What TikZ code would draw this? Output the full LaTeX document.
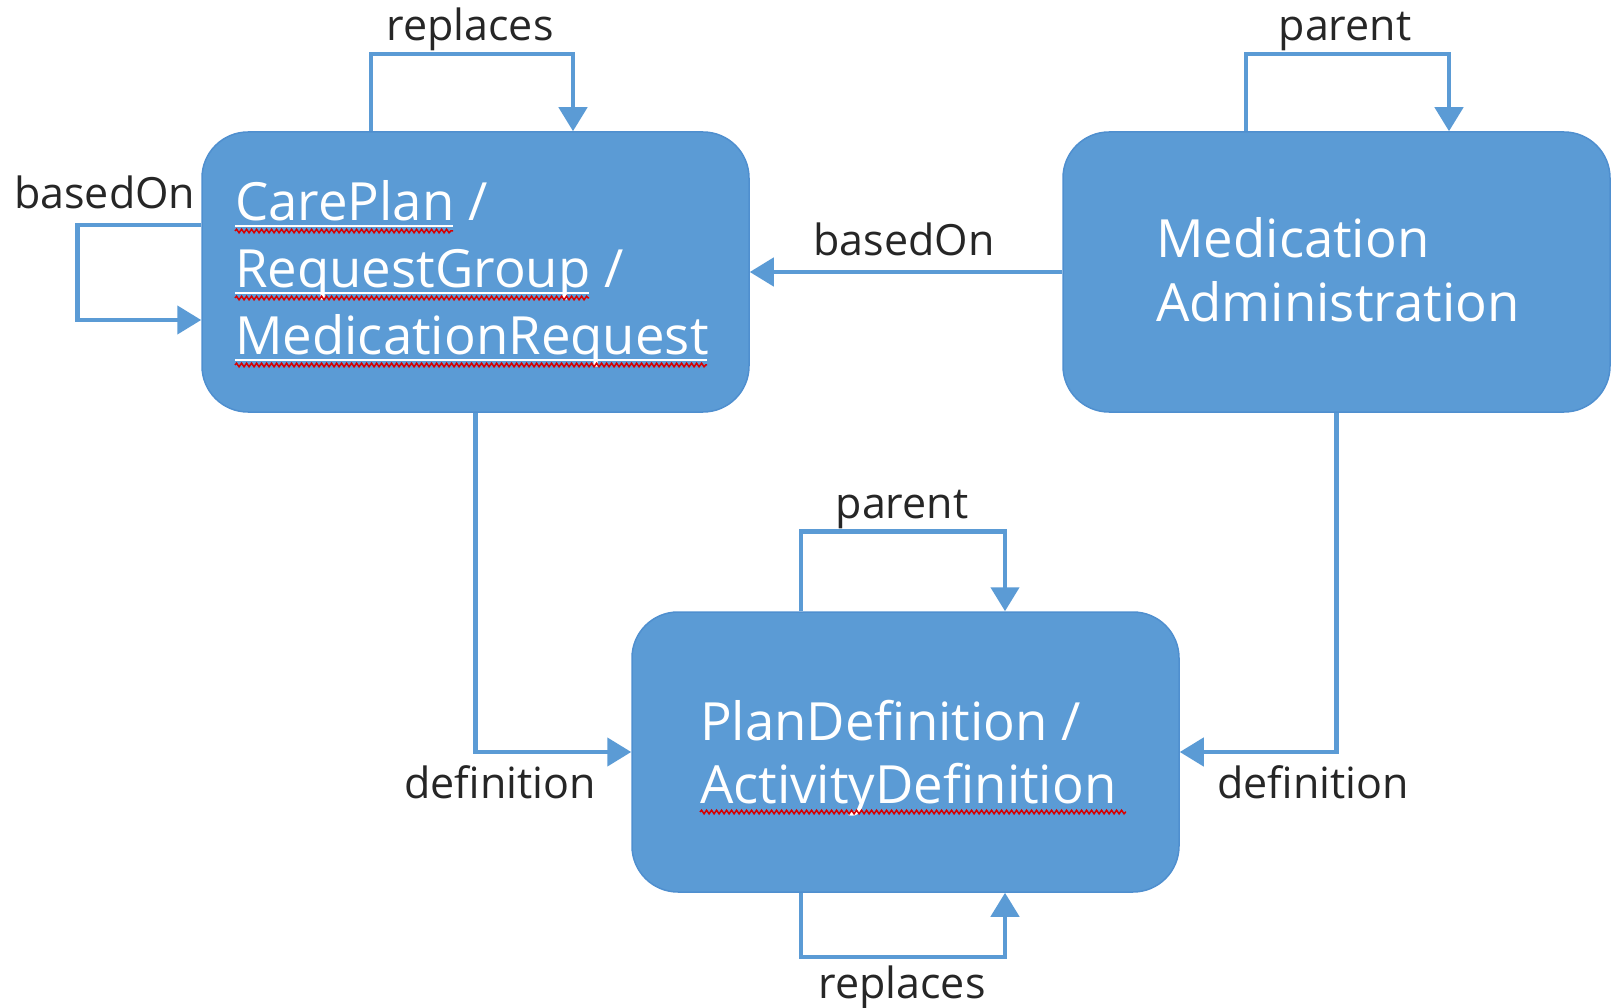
\documentclass[tikz,border=0pt]{standalone}
\usepackage{fontspec}
\setmainfont{Open Sans}
\usetikzlibrary{arrows.meta,decorations.pathmorphing,calc}
\definecolor{office}{HTML}{5B9BD5}
\definecolor{officeline}{HTML}{4F8FCF}
\definecolor{lbltext}{HTML}{262626}
\begin{document}
\begin{tikzpicture}[x=1pt,y=-1pt,
 box/.style={rectangle, rounded corners=46pt, fill=office, draw=officeline, line width=1.5pt, minimum width=547pt, minimum height=280pt, inner sep=0pt},
 conn/.style={draw=office, line width=4.5pt, -{Triangle[width=28pt,length=24pt]}},
 lbl/.style={font=\fontsize{43}{50}\selectfont, text=lbltext, inner sep=0pt, anchor=base},
 boxtxt/.style={font=\fontsize{52.7}{67}\selectfont, text=white, inner sep=0pt, anchor=base west},
 wavy/.style={draw=red!85!black, line width=1.5pt, decorate, decoration={snake, amplitude=1.8pt, segment length=5pt}},
 uline/.style={draw=white, line width=1.5pt}]
\useasboundingbox (0,0) rectangle (1615,1008);
% boxes
\node[box] (A) at (475.5,272) {};
\node[box] (B) at (1336.5,272) {};
\node[box] (C) at (905.5,752) {};
% box texts
\node[boxtxt] (a1) at (235,221) {CarePlan /};
\node[boxtxt] (a2) at (235,288) {RequestGroup /};
\node[boxtxt] (a3) at (235,355) {MedicationRequest};
\node[boxtxt] (b1) at (1156,258) {Medication};
\node[boxtxt] (b2) at (1156,322) {Administration};
\node[boxtxt] (c1) at (700,740) {PlanDefinition /};
\node[boxtxt] (c2) at (700,803) {ActivityDefinition};
% underlines
\draw[uline] ($(a1.base west)+(0,5)$) -- ++(218,0);
\draw[wavy] ($(a1.base west)+(0,10)$) -- ++(218,0);
\draw[uline] ($(a2.base west)+(0,5)$) -- ++(354,0);
\draw[wavy] ($(a2.base west)+(0,10)$) -- ++(354,0);
\draw[uline] ($(a3.base west)+(0,5)$) -- ++(472,0);
\draw[wavy] ($(a3.base west)+(0,10)$) -- ++(472,0);
\draw[wavy] ($(c2.base west)+(0,9)$) -- ++(426,0);
% connectors
\draw[conn] ([xshift=-104.5pt]A.north) -- ++(0,-77) -| ([xshift=97.5pt]A.north);
\draw[conn] ([yshift=47pt]A.west) -- ++(-124,0) |- ([yshift=-48pt]A.west);
\draw[conn] ([xshift=-90.5pt]B.north) -- ++(0,-77) -| ([xshift=112.5pt]B.north);
\draw[conn] (B.west) -- (A.east);
\draw[conn] (A.south) |- (C.west);
\draw[conn] (B.south) |- (C.east);
\draw[conn] ([xshift=-104.5pt]C.north) -- ++(0,-80) -| ([xshift=99.5pt]C.north);
\draw[conn] ([xshift=-104.5pt]C.south) -- ++(0,64) -| ([xshift=99.5pt]C.south);
% labels
\node[lbl] (l1) at (470,41) {replaces};
\node[lbl, anchor=base west] (l2) at (14,209) {basedOn};
\node[lbl] (l3) at (1345,41) {parent};
\node[lbl] (l4) at (904,256) {basedOn};
\node[lbl] (l5) at (500,798) {definition};
\node[lbl] (l6) at (1313,798) {definition};
\node[lbl] (l7) at (902,518) {parent};
\node[lbl] (l8) at (902,998) {replaces};
\end{tikzpicture}
\end{document}
